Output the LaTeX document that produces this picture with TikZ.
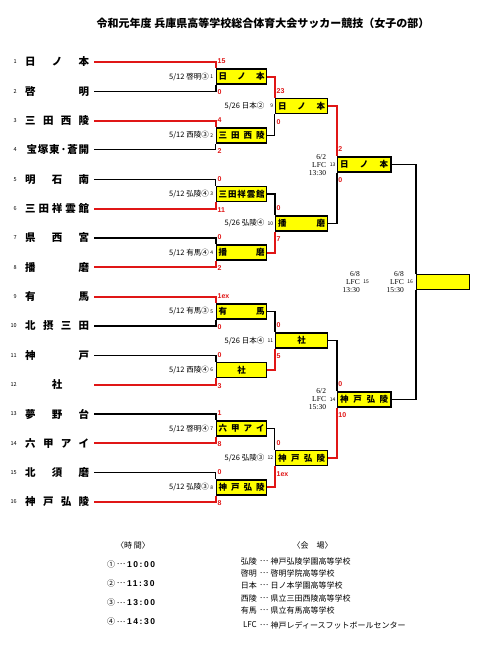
\documentclass[tikz,border=0pt]{standalone}
\usepackage{fontspec}
\usetikzlibrary{backgrounds}
\newfontfamily\jp{Noto Sans CJK JP}
\newfontfamily\lsans{Liberation Sans}
\newfontfamily\lsansw[LetterSpace=18]{Liberation Sans}
\newfontfamily\lserif{Liberation Serif}
\definecolor{wred}{RGB}{224,22,22}
\definecolor{byel}{RGB}{255,255,0}
\newcommand\spr[2]{\makebox[#1][s]{#2}}
\tikzset{
  team/.style={anchor=west, inner sep=0pt, font=\jp\bfseries\fontsize{10.5}{10.5}\selectfont},
  tnum/.style={anchor=east, inner sep=0pt, font=\jp\fontsize{5.5}{5.5}\selectfont},
  box/.style={draw, line width=1.5pt, fill=byel, minimum height=15pt, inner sep=0pt, font=\jp\bfseries\fontsize{8.5}{8.5}\selectfont},
  rbox/.style={box, minimum width=50pt},
  sbox/.style={box, minimum width=52pt},
  tbox/.style={box, minimum width=53.5pt},
  win/.style={draw=wred, line width=2pt},
  lose/.style={draw=black, line width=1.6pt},
  losethin/.style={draw=black, line width=1pt},
  score/.style={anchor=west, inner sep=0pt, text=wred, font=\lsans\bfseries\fontsize{7}{7}\selectfont},
  mlab/.style={anchor=east, inner sep=0pt, font=\jp\fontsize{7.5}{7.5}\selectfont},
  mnum/.style={anchor=east, inner sep=0pt, font=\jp\fontsize{5}{5}\selectfont},
  vlab/.style={anchor=east, inner sep=0pt, align=right, font=\lserif\fontsize{7.5}{8}\selectfont},
  leg/.style={inner sep=0pt, font=\jp\fontsize{8}{8}\selectfont},
  legt/.style={anchor=west, inner sep=0pt, font=\lsansw\bfseries\fontsize{8.5}{8.5}\selectfont},
}
\begin{document}
\begin{tikzpicture}[x=1pt,y=-1pt]
\useasboundingbox (0,0) rectangle (480,647);

% title
\node[inner sep=0pt, font=\jp\bfseries\fontsize{11}{11}\selectfont] (title) at (263,23) {令和元年度 兵庫県高等学校総合体育大会サッカー競技（女子の部）};

% team numbers
\foreach \i/\y in {1/62,2/91.33,3/120.67,4/150,5/179.33,6/208.67,7/238,8/267.33,9/296.67,10/326,11/355.33,12/384.67,13/414,14/443.33,15/472.67,16/502}{
  \node[tnum] (n\i) at (17,\y) {\i};
  \coordinate (s\i) at (94,\y);
}

% team names
\node[team] (t1) at (25,62) {\spr{64pt}{日\hfill ノ\hfill 本}};
\node[team] (t2) at (25,91.33) {\spr{64pt}{啓\hfill 明}};
\node[team] (t3) at (25,120.67) {\spr{64pt}{三\hfill 田\hfill 西\hfill 陵}};
\node[team] (t4) at (25,150) {\spr{64pt}{\hspace{1.5pt}宝\hfill 塚\hfill 東\hfill ·\hfill 蒼\hfill 開}};
\node[team] (t5) at (25,179.33) {\spr{64pt}{明\hfill 石\hfill 南}};
\node[team] (t6) at (25,208.67) {\spr{64pt}{三\hfill 田\hfill 祥\hfill 雲\hfill 館}};
\node[team] (t7) at (25,238) {\spr{64pt}{県\hfill 西\hfill 宮}};
\node[team] (t8) at (25,267.33) {\spr{64pt}{播\hfill 磨}};
\node[team] (t9) at (25,296.67) {\spr{64pt}{有\hfill 馬}};
\node[team] (t10) at (25,326) {\spr{64pt}{北\hfill 摂\hfill 三\hfill 田}};
\node[team] (t11) at (25,355.33) {\spr{64pt}{神\hfill 戸}};
\node[team] (t12) at (25,384.67) {\makebox[64pt]{社}};
\node[team] (t13) at (25,414) {\spr{64pt}{夢\hfill 野\hfill 台}};
\node[team] (t14) at (25,443.33) {\spr{64pt}{六\hfill 甲\hfill ア\hfill イ}};
\node[team] (t15) at (25,472.67) {\spr{64pt}{北\hfill 須\hfill 磨}};
\node[team] (t16) at (25,502) {\spr{64pt}{神\hfill 戸\hfill 弘\hfill 陵}};

% round 1 boxes
\node[rbox] (b1) at (241.7,76.67) {\spr{46pt}{日\hfill ノ\hfill 本}};
\node[rbox] (b2) at (241.7,135.33) {\spr{46pt}{三\hfill 田\hfill 西\hfill 陵}};
\node[rbox] (b3) at (241.7,194) {\spr{46pt}{三\hfill 田\hfill 祥\hfill 雲\hfill 館}};
\node[rbox] (b4) at (241.7,252.67) {\spr{46pt}{播\hfill 磨}};
\node[rbox] (b5) at (241.7,311.33) {\spr{46pt}{有\hfill 馬}};
\node[rbox] (b6) at (241.7,370) {社};
\node[rbox] (b7) at (241.7,428.67) {\spr{46pt}{六\hfill 甲\hfill ア\hfill イ}};
\node[rbox] (b8) at (241.7,487.33) {\spr{46pt}{神\hfill 戸\hfill 弘\hfill 陵}};
% round 2 boxes
\node[sbox] (b9) at (301.7,106) {\spr{47pt}{日\hfill ノ\hfill 本}};
\node[sbox] (b10) at (301.7,223.33) {\spr{47pt}{播\hfill 磨}};
\node[sbox] (b11) at (301.7,340.67) {社};
\node[sbox] (b12) at (301.7,458) {\spr{47pt}{神\hfill 戸\hfill 弘\hfill 陵}};
% semis
\node[tbox] (b13) at (364.2,164.67) {\spr{48pt}{日\hfill ノ\hfill 本}};
\node[tbox] (b14) at (364.2,399.33) {\spr{48pt}{神\hfill 戸\hfill 弘\hfill 陵}};
% final
\node[box, minimum width=52.6pt] (bf) at (443,282) {};

\begin{pgfonlayer}{background}
\fill[white] (0,0) rectangle (480,647);
% round 1 connectors
\draw[win] (s1) -| (b1.north west);
\draw[lose] (s2) -| (b1.south west);
\draw[win] (s3) -| (b2.north west);
\draw[losethin] (s4) -| (b2.south west);
\draw[losethin] (s5) -| (b3.north west);
\draw[win] (s6) -| (b3.south west);
\draw[lose] (s7) -| (b4.north west);
\draw[win] (s8) -| (b4.south west);
\draw[win] (s9) -| (b5.north west);
\draw[lose] (s10) -| (b5.south west);
\draw[lose] (s11) -| (b6.north west);
\draw[win] (s12) -| (b6.south west);
\draw[lose] (s13) -| (b7.north west);
\draw[win] (s14) -| (b7.south west);
\draw[losethin] (s15) -| (b8.north west);
\draw[win] (s16) -| (b8.south west);
% round 2 connectors
\draw[win] (b1.east) -| (b9.north west);
\draw[losethin] (b2.east) -| (b9.south west);
\draw[lose] (b3.east) -| (b10.north west);
\draw[win] (b4.east) -| (b10.south west);
\draw[lose] (b5.east) -| (b11.north west);
\draw[win] (b6.east) -| (b11.south west);
\draw[losethin] (b7.east) -| (b12.north west);
\draw[win] (b8.east) -| (b12.south west);
% semis
\draw[win] (b9.east) -| (b13.north west);
\draw[lose] (b10.east) -| (b13.south west);
\draw[lose] (b11.east) -| (b14.north west);
\draw[win] (b12.east) -| (b14.south west);
% final
\draw[lose] (b13.east) -| (bf.north west);
\draw[lose] (b14.east) -| (bf.south west);
\end{pgfonlayer}

% scores
\foreach \b/\u/\d in {b1/15/0,b2/4/2,b3/0/11,b4/0/2,b5/1ex/0,b6/0/3,b7/1/8,b8/0/8,b9/23/0,b10/0/7,b11/0/5,b12/0/1ex,b13/2/0,b14/0/10}{
  \node[score] (\b u) at ([xshift=1.5pt,yshift=7pt]\b.north west) {\u};
  \node[score] (\b d) at ([xshift=1.5pt,yshift=-7.5pt]\b.south west) {\d};
}

% match labels round 1
\foreach \b/\t/\k in {b1/啓明③/1,b2/西陵③/2,b3/弘陵④/3,b4/有馬④/4,b5/有馬③/5,b6/西陵④/6,b7/啓明④/7,b8/弘陵③/8}{
  \node[mlab] (\b l) at ([xshift=-7pt]\b.west) {5/12 \t};
  \node[mnum] (\b n) at ([xshift=-2.6pt]\b.west) {\k};
}
% match labels round 2
\foreach \b/\t/\k in {b9/日本②/9,b10/弘陵④/10,b11/日本④/11,b12/弘陵③/12}{
  \node[mlab] (\b l) at ([xshift=-10.5pt]\b.west) {5/26 \t};
  \node[mnum] (\b n) at ([xshift=-1.6pt]\b.west) {\k};
}
% semis labels
\node[vlab] (l13) at ([xshift=-10.5pt]b13.west) {6/2\\LFC\\13:30};
\node[mnum] (k13) at ([xshift=-1.2pt]b13.west) {13};
\node[vlab] (l14) at ([xshift=-10.5pt]b14.west) {6/2\\LFC\\15:30};
\node[mnum] (k14) at ([xshift=-1.2pt]b14.west) {14};
% final labels
\node[vlab] (l15) at (360,282) {6/8\\LFC\\13:30};
\node[mnum] (k15) at (369,282) {15};
\node[vlab] (l16) at (404,282) {6/8\\LFC\\15:30};
\node[mnum] (k16) at (413.2,282) {16};

% legend: times
\node[leg] (lt) at (133,545) {〈時 間〉};
\foreach \i/\c/\tm/\y in {1/①/10:00/564.3,2/②/11:30/583.3,3/③/13:00/602.7,4/④/14:30/621.7}{
  \node[leg] (c\i) at (111,\y) {\c};
  \node[leg] (d\i) at (121,\y) {…};
  \node[legt] (h\i) at (127,\y) {\tm};
}
% legend: venues
\node[leg] (lv) at (312.5,545) {〈会　場〉};
\foreach \i/\a/\v/\y in {1/弘陵/神戸弘陵学園高等学校/561,2/啓明/啓明学院高等学校/573.3,3/日本/日ノ本学園高等学校/585,4/西陵/県立三田西陵高等学校/598.3,5/有馬/県立有馬高等学校/610,6/LFC/神戸レディースフットボールセンター/625}{
  \node[leg, anchor=east] (va\i) at (257,\y) {\a};
  \node[leg] (vd\i) at (264,\y) {…};
  \node[leg, anchor=west] (vn\i) at (270.5,\y) {\v};
}
\end{tikzpicture}
\end{document}
